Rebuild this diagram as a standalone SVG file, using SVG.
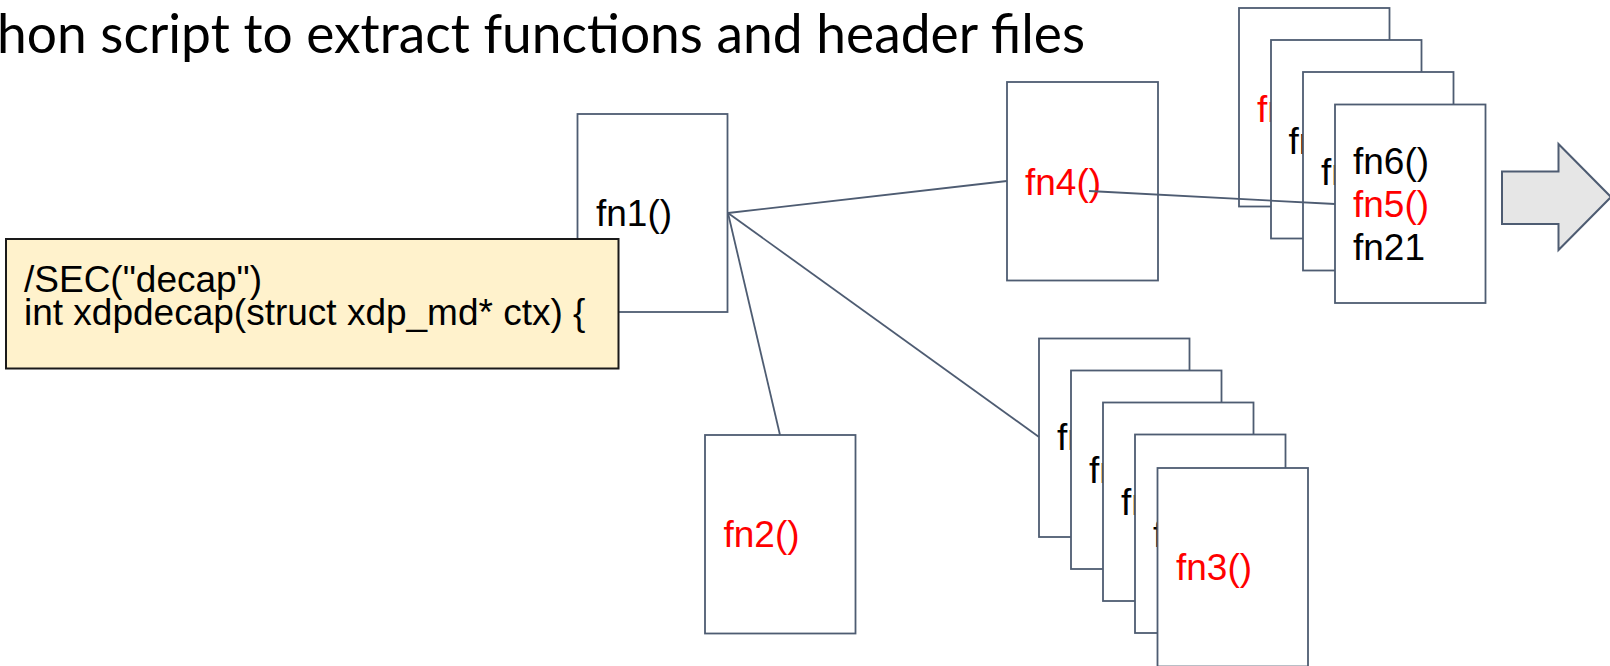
<svg xmlns="http://www.w3.org/2000/svg" width="1610" height="666" viewBox="0 0 1610 666">
  <style>
    .card { fill: #ffffff; stroke: #4e5c72; stroke-width: 1.8; }
    .lbl { font-family: "Liberation Sans", Arial, sans-serif; font-size: 37px; fill: #000000; }
    .red { fill: #ff0000; }
    .wire { stroke: #4e5c72; stroke-width: 1.8; fill: none; }
    .title { font-family: Lato, "Open Sans", sans-serif; font-size: 54px; fill: #000000; }
    .code { fill: #fff2cc; stroke: #1a1a1a; stroke-width: 2; }
    .next { fill: #e6e6e6; stroke: #4e5c72; stroke-width: 2; stroke-linejoin: miter; }
  </style>

  <!-- heading -->
  <text class="title" x="-3" y="53" textLength="1088" lengthAdjust="spacingAndGlyphs">hon script to extract functions and header files</text>

  <!-- fn1: entry function -->
  <g id="fn1">
    <rect class="card" x="577.5" y="114" width="150" height="198"/>
    <text class="lbl" x="596" y="226">fn1()</text>
  </g>

  <!-- source snippet laid over fn1 -->
  <g id="source">
    <rect class="code" x="6" y="239" width="612.5" height="129.5"/>
    <text class="lbl" x="24" y="291.5">/SEC("decap")</text>
    <text class="lbl" x="24" y="325">int xdpdecap(struct xdp_md* ctx) {</text>
  </g>

  <!-- fn2 -->
  <g id="fn2">
    <rect class="card" x="705" y="435" width="150.5" height="198.5"/>
    <text class="lbl red" x="723.5" y="547">fn2()</text>
  </g>

  <!-- fn4 -->
  <g id="fn4">
    <rect class="card" x="1007" y="82" width="151" height="198.5"/>
    <text class="lbl red" x="1025" y="194.5">fn4()</text>
  </g>

  <!-- fn3 stack: each card hides most of the label on the one behind -->
  <g id="fn3-stack">
    <rect class="card" x="1039" y="338.5" width="150.5" height="198.5"/>
    <text class="lbl" x="1057" y="450">fn</text>
    <rect class="card" x="1071" y="370.5" width="150.5" height="198.5"/>
    <text class="lbl" x="1089" y="483">fn</text>
    <rect class="card" x="1103" y="402.5" width="150.5" height="198.5"/>
    <text class="lbl" x="1121" y="515">fn</text>
    <rect class="card" x="1135" y="434.5" width="150.5" height="198.5"/>
    <text class="lbl" x="1153" y="547">fn</text>
    <rect class="card" x="1157.5" y="468" width="150.5" height="198.5"/>
    <text class="lbl red" x="1176" y="580">fn3()</text>
  </g>

  <!-- fn5 stack -->
  <g id="fn5-stack">
    <rect class="card" x="1239" y="8" width="150.5" height="198.5"/>
    <text class="lbl red" x="1257" y="121.5">fn</text>
    <rect class="card" x="1271" y="40" width="150.5" height="198.5"/>
    <text class="lbl" x="1288.5" y="153.5">fn</text>
    <rect class="card" x="1303" y="72" width="150.5" height="198.5"/>
    <text class="lbl" x="1321" y="185">fn</text>
  </g>

  <!-- call edges -->
  <g id="connectors">
    <line class="wire" x1="728" y1="213" x2="1007" y2="181"/>
    <line class="wire" x1="728" y1="213" x2="780" y2="435"/>
    <line class="wire" x1="728" y1="213" x2="1039" y2="437"/>
    <line class="wire" x1="1089" y1="191" x2="1335" y2="204"/>
  </g>

  <!-- front card of the fn5 stack -->
  <g id="fn5">
    <rect class="card" x="1335" y="104.5" width="150.5" height="198.5"/>
    <text class="lbl" x="1353" y="173.5">fn6()</text>
    <text class="lbl red" x="1353" y="216.5">fn5()</text>
    <text class="lbl" x="1353" y="260">fn21</text>
  </g>

  <!-- block arrow to the next step -->
  <g id="next-arrow">
    <polygon class="next" points="1502,171.5 1558.5,171.5 1558.5,144 1611,197 1558.5,250 1558.5,224 1502,224"/>
  </g>
</svg>
